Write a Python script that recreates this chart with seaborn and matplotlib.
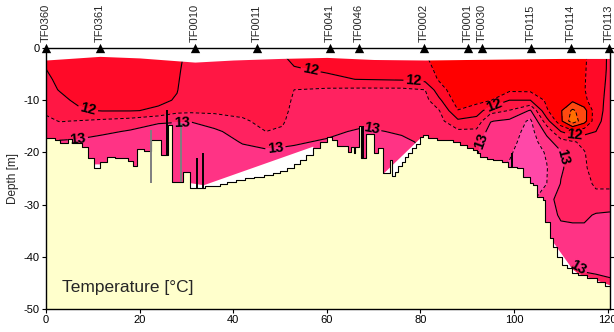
import numpy as np
import matplotlib
matplotlib.use("Agg")
import matplotlib.pyplot as plt
import seaborn as sns

# ---------------- data ----------------
station_names = ["TF0360", "TF0361", "TF0010", "TF0011", "TF0041", "TF0046",
                 "TF0002", "TF0001", "TF0030", "TF0115", "TF0114", "TF0113"]
station_dist = [0.0, 11.5, 31.8, 45.0, 60.7, 66.9, 80.8, 90.2, 93.2, 103.6, 112.2, 120.3]

grid_dist = [0, 3, 7, 12, 18, 24, 28, 31, 36, 42, 47, 50.5, 53, 60, 68, 76, 81,
             84, 88, 92, 95, 99, 103.5, 107, 110, 112.5, 115, 117.5, 120.5]
grid_depth = [0, -2, -4, -6, -8, -10, -12, -14, -16, -18, -20, -23, -26, -29,
              -32, -35, -38, -42, -46, -50]

# temperature profiles (one list per grid_dist column, values at grid_depth)
temperature_profiles = [
    [11.90, 11.95, 12.00, 12.05, 12.10, 12.25, 12.42, 12.60, 12.80, 12.95, 13.05, 13.10, 13.10, 13.10, 13.10, 13.10, 13.10, 13.10, 13.10, 13.10],
    [11.85, 11.88, 11.91, 11.94, 11.98, 12.08, 12.25, 12.48, 12.75, 13.05, 13.15, 13.20, 13.20, 13.20, 13.20, 13.20, 13.20, 13.20, 13.20, 13.20],
    [11.80, 11.82, 11.84, 11.86, 11.90, 11.93, 12.05, 12.52, 12.75, 13.10, 13.20, 13.25, 13.25, 13.25, 13.25, 13.25, 13.25, 13.25, 13.25, 13.25],
    [11.80, 11.80, 11.82, 11.84, 11.87, 11.92, 11.98, 12.60, 12.90, 13.20, 13.25, 13.30, 13.30, 13.30, 13.30, 13.30, 13.30, 13.30, 13.30, 13.30],
    [11.80, 11.80, 11.82, 11.84, 11.88, 11.93, 11.98, 12.70, 13.05, 13.20, 13.25, 13.30, 13.30, 13.30, 13.30, 13.30, 13.30, 13.30, 13.30, 13.30],
    [11.85, 11.86, 11.88, 11.90, 11.93, 11.95, 12.04, 12.95, 13.15, 13.25, 13.30, 13.30, 13.30, 13.30, 13.30, 13.30, 13.30, 13.30, 13.30, 13.30],
    [11.95, 11.96, 11.97, 11.98, 11.99, 12.02, 12.35, 12.97, 13.20, 13.25, 13.30, 13.30, 13.30, 13.30, 13.30, 13.30, 13.30, 13.30, 13.30, 13.30],
    [12.05, 12.06, 12.08, 12.10, 12.15, 12.22, 12.38, 12.98, 13.20, 13.25, 13.30, 13.30, 13.30, 13.30, 13.30, 13.30, 13.30, 13.30, 13.30, 13.30],
    [12.08, 12.08, 12.10, 12.12, 12.18, 12.25, 12.40, 12.75, 13.10, 13.20, 13.25, 13.30, 13.30, 13.30, 13.30, 13.30, 13.30, 13.30, 13.30, 13.30],
    [12.10, 12.10, 12.12, 12.14, 12.18, 12.25, 12.38, 12.56, 12.75, 12.97, 13.12, 13.20, 13.20, 13.20, 13.20, 13.20, 13.20, 13.20, 13.20, 13.20],
    [12.10, 12.10, 12.12, 12.14, 12.20, 12.25, 12.30, 12.38, 12.50, 12.80, 13.10, 13.20, 13.20, 13.20, 13.20, 13.20, 13.20, 13.20, 13.20, 13.20],
    [12.01, 12.02, 12.05, 12.10, 12.15, 12.22, 12.30, 12.42, 12.58, 12.85, 13.15, 13.20, 13.20, 13.20, 13.20, 13.20, 13.20, 13.20, 13.20, 13.20],
    [11.95, 11.97, 12.01, 12.25, 12.50, 12.60, 12.68, 12.75, 12.83, 12.95, 13.10, 13.20, 13.20, 13.20, 13.20, 13.20, 13.20, 13.20, 13.20, 13.20],
    [11.93, 11.95, 11.98, 12.03, 12.58, 12.65, 12.72, 12.80, 12.90, 13.05, 13.10, 13.15, 13.15, 13.15, 13.15, 13.15, 13.15, 13.15, 13.15, 13.15],
    [11.92, 11.93, 11.95, 11.99, 12.60, 12.70, 12.78, 12.88, 13.08, 13.20, 13.25, 13.25, 13.25, 13.25, 13.25, 13.25, 13.25, 13.25, 13.25, 13.25],
    [11.85, 11.86, 11.88, 11.95, 12.60, 12.70, 12.76, 12.82, 12.94, 13.10, 13.20, 13.20, 13.20, 13.20, 13.20, 13.20, 13.20, 13.20, 13.20, 13.20],
    [11.52, 11.55, 11.65, 11.85, 12.50, 12.65, 12.72, 12.78, 12.85, 12.92, 12.95, 12.95, 12.95, 12.95, 12.95, 12.95, 12.95, 12.95, 12.95, 12.95],
    [11.30, 11.32, 11.38, 11.45, 11.70, 12.10, 12.52, 12.65, 12.75, 12.82, 12.85, 12.90, 12.90, 12.90, 12.90, 12.90, 12.90, 12.90, 12.90, 12.90],
    [11.10, 11.10, 11.12, 11.15, 11.20, 11.25, 11.52, 12.10, 12.60, 12.85, 12.90, 12.95, 12.95, 12.95, 12.95, 12.95, 12.95, 12.95, 12.95, 12.95],
    [11.10, 11.10, 11.12, 11.15, 11.20, 11.35, 11.75, 12.20, 12.60, 12.85, 12.95, 12.98, 12.98, 12.98, 12.98, 12.98, 12.98, 12.98, 12.98, 12.98],
    [11.10, 11.12, 11.15, 11.20, 11.30, 11.48, 12.30, 12.98, 13.20, 13.30, 13.35, 13.40, 13.40, 13.40, 13.40, 13.40, 13.40, 13.40, 13.40, 13.40],
    [11.15, 11.17, 11.20, 11.25, 11.40, 12.00, 12.52, 13.10, 13.25, 13.35, 13.45, 13.55, 13.60, 13.60, 13.60, 13.60, 13.60, 13.60, 13.60, 13.60],
    [11.20, 11.20, 11.22, 11.27, 11.38, 12.00, 13.05, 13.60, 13.70, 13.75, 13.75, 13.75, 13.70, 13.65, 13.60, 13.60, 13.60, 13.60, 13.60, 13.60],
    [11.25, 11.25, 11.27, 11.30, 11.33, 11.40, 11.55, 12.20, 12.85, 13.20, 13.45, 13.52, 13.50, 13.10, 13.10, 13.20, 13.25, 13.20, 13.20, 13.20],
    [11.30, 11.30, 11.30, 11.32, 11.35, 11.40, 11.05, 11.10, 12.00, 12.70, 13.05, 13.05, 12.98, 12.90, 12.97, 13.05, 13.10, 13.05, 13.00, 13.00],
    [11.30, 11.30, 11.30, 11.28, 11.25, 11.10, 10.40, 10.20, 11.70, 12.55, 12.75, 12.85, 12.90, 12.90, 12.95, 13.05, 13.10, 12.98, 12.90, 12.90],
    [11.45, 11.45, 11.46, 11.47, 11.48, 11.40, 10.80, 10.80, 11.80, 12.40, 12.52, 12.55, 12.60, 12.75, 12.90, 13.10, 13.15, 13.03, 12.90, 12.90],
    [11.70, 11.70, 11.72, 11.74, 11.76, 11.78, 11.80, 11.85, 12.00, 12.20, 12.30, 12.35, 12.45, 12.60, 13.05, 13.10, 13.15, 13.05, 12.90, 12.90],
    [12.10, 12.10, 12.10, 12.12, 12.15, 12.18, 12.20, 12.25, 12.30, 12.33, 12.35, 12.40, 12.45, 12.60, 13.10, 13.15, 13.20, 13.10, 12.90, 12.90],
]

# top of the sampled layer (white band above)
surface_dist = [0, 5, 11.5, 20, 31.8, 40, 50, 60, 70, 81, 90, 100, 110, 120.5]
surface_depth = [-2.3, -2.0, -1.6, -1.9, -2.7, -2.3, -2.0, -1.8, -2.2, -2.3, -2.2, -2.1, -2.0, -2.0]

# lower edge of the sampled area where it stays above the sea floor
gap_dist = [0, 10.2, 10.3, 11.5, 11.6, 30.7, 30.8, 33.6, 57.0, 57.1, 71.9, 72.0, 79.9, 80.0,
            107.0, 107.7, 112.4, 113.7, 120.5]
gap_depth = [-50, -50, -22.2, -22.2, -50, -50, -25.8, -26.2, -18.8, -50, -50, -24.0, -17.2, -50,
             -50, -36.4, -42.3, -43.2, -45.4]

# sea floor (stepped)
bathy_dist = [0, 1.9, 3.0, 4.7, 5.6, 7.7, 9.0, 10.3, 11.5, 13.0, 14.7, 17.5, 18.6, 19.5,
              21.0, 22.5, 24.5, 26.0, 27.0, 29.3, 30.8, 34.0, 37.2, 38.7, 40.5, 42.5,
              44.5, 46.5, 48.5, 50.0, 51.5, 53.0, 54.3, 55.5, 57.0, 58.5, 60.0, 61.1,
              62.2, 64.6, 65.1, 65.7, 66.0, 66.9, 67.3, 68.4, 70.0, 71.0, 72.0, 73.4,
              73.9, 74.6, 75.3, 76.0, 76.7, 77.4, 78.1, 79.0, 79.9, 80.6, 81.7, 83.5,
              87.0, 88.5, 90.0, 91.2, 92.0, 92.7, 94.2, 95.5, 97.5, 98.7, 100.6, 102.0,
              103.4, 104.0, 105.0, 106.2, 106.6, 107.7, 108.3, 109.2, 110.3, 111.3,
              112.4, 113.7, 115.6, 117.7, 119.5, 120.5]
bathy_depth = [-17.2, -17.6, -18.2, -17.5, -18.2, -19.0, -21.1, -23.0, -21.8, -20.9, -21.1,
               -21.6, -22.6, -19.4, -19.8, -17.6, -20.5, -14.8, -25.6, -23.8, -26.8, -26.5,
               -26.0, -25.6, -25.3, -25.0, -24.7, -24.3, -24.0, -23.5, -23.0, -22.3, -21.5,
               -20.5, -19.2, -18.0, -17.0, -17.6,
               -18.8, -19.9, -18.9, -20.2, -18.9, -14.9, -21.1, -16.5, -20.2, -19.2, -24.0, -21.5,
               -24.6, -23.7, -22.7, -21.8, -20.8, -20.1, -19.2, -18.3, -17.0, -16.7, -17.2, -17.6,
               -18.0, -18.6, -19.2, -19.5, -20.1, -20.8, -21.3, -21.5, -21.8, -22.8, -23.0, -24.7,
               -25.9, -26.2, -28.5, -29.1, -33.3, -36.4, -38.1, -40.0, -41.6, -42.1,
               -43.1, -43.5, -44.1, -44.8, -45.6, -45.6]

# narrow sea-floor spikes / trenches
spike_dist = [22.5, 25.8, 28.9, 32.3, 33.6, 67.8, 99.6]
spike_top = [-15.7, -11.9, -14.4, -21.0, -20.1, -14.9, -20.1]
spike_bottom = [-25.9, -20.5, -25.6, -26.8, -26.8, -21.1, -22.8]
spike_color = ["#7f7f7f", "black", "#7f7f7f", "black", "black", "black", "black"]

fill_levels = [9.5, 10.5, 11.0, 11.5, 12.0, 12.5, 13.0, 13.5, 14.5]
fill_colors = ["#FF7000", "#FF4A10", "#FF0000", "#FF0A28", "#FF1744",
               "#FF2260", "#FF3385", "#FF48A8"]
label_positions = [(9.0, -11.7), (56.4, -4.9), (78.5, -6.6), (95.6, -10.9), (113.0, -16.7),
                   (6.8, -17.2), (29.0, -13.8), (49.0, -19.0), (69.6, -15.1), (93.8, -18.2),
                   (110.5, -20.8), (113.7, -42.1)]

# ---------------- plotting ----------------
sns.set_theme(style="ticks")
plt.rcParams["font.family"] = ["Liberation Sans", "DejaVu Sans"]
plt.rcParams["axes.unicode_minus"] = False

fig = plt.figure(figsize=(6.14, 3.32), dpi=100)
ax = fig.add_axes([0.0749, 0.0693, 0.9186, 0.7861])

X, Y = np.meshgrid(grid_dist, grid_depth)
T = np.array(temperature_profiles).T

ax.contourf(X, Y, T, levels=fill_levels, colors=fill_colors, zorder=1)
cs_11 = ax.contour(X, Y, T, levels=[11.0], colors="black", linewidths=0.8, zorder=2)
cs_lab = ax.contour(X, Y, T, levels=[12.0, 13.0], colors="black", linewidths=0.8, zorder=2)
cs_dash = ax.contour(X, Y, T, levels=[10.5, 11.5, 12.5, 13.5], colors="black",
                     linewidths=0.7, zorder=2)
cs_dash.set_linestyle((0, (3.5, 2.5)))

labels = ax.clabel(cs_lab, manual=label_positions, inline=True,
                   inline_spacing=2, fontsize=10.5, fmt="%d")
for t in labels:
    t.set_fontweight("bold")
    t.set_zorder(6)

ax.fill_between(surface_dist, surface_depth, 0, color="white", lw=0, zorder=3)
ax.fill_between(gap_dist, gap_depth, -50, color="white", lw=0, zorder=3)
ax.fill_between(bathy_dist, bathy_depth, -50, step="post", color="#FFFFCC", lw=0, zorder=4)
ax.step(bathy_dist, bathy_depth, where="post", color="black", lw=0.8, zorder=5)
ax.vlines(spike_dist, spike_bottom, spike_top, colors=spike_color, lw=1.4, zorder=5)

sns.scatterplot(x=station_dist, y=[0.0] * len(station_dist), marker="^", s=45,
                color="black", edgecolor="black", linewidth=0, clip_on=False,
                zorder=10, legend=False, ax=ax)
for name, d in zip(station_names, station_dist):
    ax.annotate(name, (d, 0), xytext=(0, 4.5), textcoords="offset points",
                rotation=90, ha="center", va="bottom", fontsize=8,
                annotation_clip=False)

ax.text(3.4, -46.8, "Temperature [°C]", fontsize=12.5, va="baseline", ha="left", zorder=11)

ax.set_xlim(0, 120.5)
ax.set_ylim(-50, 0)
ax.set_xticks([0, 20, 40, 60, 80, 100, 120])
ax.set_xticklabels(["0", "20", "40", "60", "80", "100", "120"])
ax.set_yticks([0, -10, -20, -30, -40, -50])
ax.set_yticklabels(["0", "-10", "-20", "-30", "-40", "-50"])
ax.tick_params(axis="both", which="both", direction="out", length=3, width=0.8,
               labelsize=8, pad=1.5, colors="black")
ax.tick_params(axis="y", right=True, labelright=False)
ax.set_ylabel("Depth [m]", fontsize=8.5, labelpad=3)
ax.set_xlabel("")
for sp in ax.spines.values():
    sp.set_linewidth(1.0)
    sp.set_color("black")
    sp.set_zorder(12)

fig.savefig("out.png", dpi=100)
